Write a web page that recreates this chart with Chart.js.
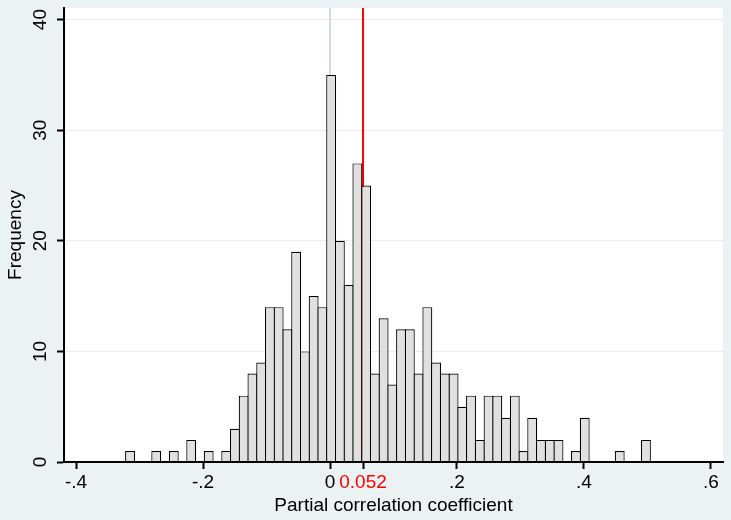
<!DOCTYPE html>
<html>
<head>
<meta charset="utf-8">
<script src="https://cdn.jsdelivr.net/npm/chart.js@4.4.1/dist/chart.umd.min.js"></script>
<style>
html, body { margin: 0; padding: 0; background: #EAF2F3; }
canvas { display: block; }
</style>
</head>
<body>
<canvas id="c" width="731" height="520"></canvas>
<script>
// Histogram bins (bin midpoints) and their frequencies
const binCenters = [
  -0.3150, -0.3012, -0.2875, -0.2737, -0.2599, -0.2461, -0.2324, -0.2186, -0.2048, -0.1911,
  -0.1773, -0.1635, -0.1497, -0.1360, -0.1222, -0.1084, -0.0946, -0.0809, -0.0671, -0.0533,
  -0.0396, -0.0258, -0.0120,  0.0018,  0.0155,  0.0293,  0.0431,  0.0569,  0.0706,  0.0844,
   0.0982,  0.1119,  0.1257,  0.1395,  0.1533,  0.1670,  0.1808,  0.1946,  0.2084,  0.2221,
   0.2359,  0.2497,  0.2635,  0.2772,  0.2910,  0.3048,  0.3185,  0.3323,  0.3461,  0.3599,
   0.3736,  0.3874,  0.4012,  0.4150,  0.4287,  0.4425,  0.4563,  0.4700,  0.4838,  0.4976
];
const frequencies = [
   1,  0,  0,  1,  0,  1,  0,  2,  0,  1,
   0,  1,  3,  6,  8,  9, 14, 14, 12, 19,
  10, 15, 14, 35, 20, 16, 27, 25,  8, 13,
   7, 12, 12,  8, 14,  9,  8,  8,  5,  6,
   2,  6,  6,  4,  6,  1,  4,  2,  2,  2,
   0,  1,  4,  0,  0,  0,  1,  0,  0,  2
];
const xTickValues = [-0.4, -0.2, 0, 0.2, 0.4, 0.6];
const xTickLabels = ['-.4', '-.2', '0', '.2', '.4', '.6'];
const yTickValues = [0, 10, 20, 30, 40];
const yTickLabels = ['0', '10', '20', '30', '40'];
const zeroLineValue = 0;
const markerValue = 0.052;
const markerLabel = '0.052';
const xTitle = 'Partial correlation coefficient';
const yTitle = 'Frequency';

const FONT = "'Liberation Sans', Arial, Helvetica, sans-serif";
const FS = 19;
const BG = '#EAF2F3';

const stataPlugin = {
  id: 'stataPlugin',
  beforeDraw(chart) {
    const { ctx, chartArea: a } = chart;
    ctx.save();
    ctx.fillStyle = BG;
    ctx.fillRect(0, 0, chart.width, chart.height);
    ctx.fillStyle = '#FFFFFF';
    ctx.fillRect(a.left, a.top, a.right - a.left, a.bottom - a.top);
    ctx.restore();
  },
  beforeDatasetsDraw(chart) {
    const { ctx, chartArea: a, scales: { x } } = chart;
    ctx.save();
    ctx.lineWidth = 2;
    const x0 = x.getPixelForValue(zeroLineValue);
    ctx.strokeStyle = '#D3DAE6';
    ctx.beginPath(); ctx.moveTo(x0, a.top); ctx.lineTo(x0, a.bottom); ctx.stroke();
    const xm = x.getPixelForValue(markerValue);
    ctx.strokeStyle = '#FF0000';
    ctx.beginPath(); ctx.moveTo(xm, a.top); ctx.lineTo(xm, a.bottom); ctx.stroke();
    ctx.restore();
  },
  afterDraw(chart) {
    const { ctx, scales: { y } } = chart;
    ctx.save();
    ctx.fillStyle = '#000';
    ctx.font = FS + 'px ' + FONT;
    ctx.textAlign = 'center';
    ctx.textBaseline = 'middle';
    y.ticks.forEach((t) => {
      const py = y.getPixelForValue(t.value);
      ctx.save();
      ctx.translate(41, py);
      ctx.rotate(-Math.PI / 2);
      ctx.fillText(yTickLabels[yTickValues.indexOf(t.value)], 0, 0);
      ctx.restore();
    });
    ctx.restore();
  }
};

new Chart(document.getElementById('c'), {
  type: 'bar',
  data: {
    datasets: [{
      data: binCenters.map((c, i) => ({ x: c, y: frequencies[i] })),
      backgroundColor: '#E0E0E0',
      borderColor: '#000000',
      borderWidth: 1.2,
      borderSkipped: 'start',
      inflateAmount: 0,
      barPercentage: 1.138,
      categoryPercentage: 1
    }]
  },
  options: {
    responsive: false,
    animation: false,
    devicePixelRatio: 1,
    layout: { padding: { left: 0, right: 8, top: 8, bottom: 0 } },
    plugins: { legend: { display: false }, tooltip: { enabled: false } },
    scales: {
      x: {
        type: 'linear',
        min: -0.419,
        max: 0.619,
        offset: false,
        afterBuildTicks: (s) => {
          s.ticks = [...xTickValues, markerValue].sort((a, b) => a - b).map((v) => ({ value: v }));
        },
        afterFit: (s) => { s.height = 58; },
        ticks: {
          autoSkip: false,
          maxRotation: 0,
          minRotation: 0,
          padding: 2,
          font: { family: FONT, size: FS },
          color: (c) => (c.tick && c.tick.value === markerValue ? '#FF0000' : '#000000'),
          callback: (v) => (v === markerValue ? markerLabel : xTickLabels[xTickValues.indexOf(v)])
        },
        grid: {
          offset: false,
          drawOnChartArea: false,
          drawTicks: true,
          tickLength: 7,
          tickColor: '#000000',
          tickWidth: 2
        },
        border: { display: true, color: '#000000', width: 2, z: 1 },
        title: {
          display: true,
          text: xTitle,
          color: '#000000',
          font: { family: FONT, size: FS },
          padding: { top: 0, bottom: 3 }
        }
      },
      y: {
        min: 0,
        max: 41.05,
        afterBuildTicks: (s) => { s.ticks = yTickValues.map((v) => ({ value: v })); },
        afterFit: (s) => { s.width = 64; },
        ticks: { display: false },
        grid: {
          color: (c) => (c.tick && c.tick.value === 0 ? 'rgba(0,0,0,0)' : '#E6EEF0'),
          lineWidth: 1,
          drawTicks: true,
          tickLength: 7,
          tickColor: '#000000',
          tickWidth: 2
        },
        border: { display: true, color: '#000000', width: 2, z: 1 },
        title: {
          display: true,
          text: yTitle,
          color: '#000000',
          font: { family: FONT, size: FS },
          padding: { top: 4, bottom: 0 }
        }
      }
    }
  },
  plugins: [stataPlugin]
});
</script>
</body>
</html>
